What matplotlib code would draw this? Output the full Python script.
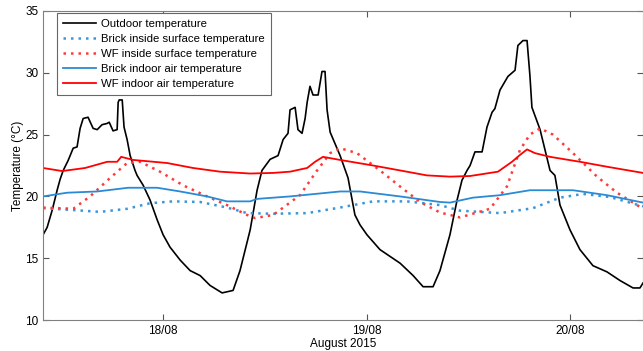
import matplotlib
matplotlib.use("Agg")
import matplotlib.pyplot as plt

# time in days since 17/08/2015 00:00
out_t = [0.410, 0.430, 0.455, 0.479, 0.494, 0.509, 0.533, 0.558, 0.577, 0.592,
         0.607, 0.631, 0.656, 0.676, 0.700, 0.725, 0.735, 0.754, 0.774, 0.779,
         0.784, 0.799, 0.808, 0.823, 0.838, 0.862, 0.872, 0.902, 0.936, 0.971,
         1.000, 1.034, 1.084, 1.133, 1.182, 1.231, 1.290, 1.344, 1.378, 1.428,
         1.462, 1.486, 1.526, 1.565, 1.590, 1.614, 1.624, 1.649, 1.663, 1.683,
         1.698, 1.708, 1.722, 1.737, 1.762, 1.781, 1.796, 1.806, 1.821, 1.870,
         1.909, 1.943, 1.968, 2.002, 2.066, 2.165, 2.229, 2.278, 2.327, 2.361,
         2.410, 2.445, 2.469, 2.494, 2.509, 2.533, 2.568, 2.592, 2.617, 2.631,
         2.656, 2.695, 2.730, 2.744, 2.769, 2.789, 2.803, 2.813, 2.853, 2.902,
         2.926, 2.951, 3.000, 3.049, 3.113, 3.182, 3.246, 3.310, 3.344, 3.359]
out_temp = [16.9, 17.5, 18.9, 20.5, 21.4, 22.1, 22.9, 23.9, 24.0, 25.5,
            26.3, 26.4, 25.5, 25.4, 25.8, 25.9, 26.0, 25.3, 25.4, 27.6,
            27.8, 27.8, 25.6, 24.6, 23.3, 22.1, 21.7, 20.9, 19.7, 18.1,
            16.9, 15.9, 14.85, 14.0, 13.6, 12.8, 12.2, 12.4, 14.0, 17.3,
            20.5, 22.1, 23.0, 23.3, 24.6, 25.1, 27.0, 27.2, 25.4, 25.1,
            26.3, 27.6, 28.9, 28.2, 28.2, 30.1, 30.1, 27.0, 25.2, 23.3,
            21.5, 18.5, 17.7, 16.9, 15.7, 14.6, 13.6, 12.7, 12.7, 14.0,
            16.9, 19.7, 21.3, 22.1, 22.5, 23.6, 23.6, 25.6, 26.8, 27.1,
            28.6, 29.7, 30.2, 32.2, 32.6, 32.6, 29.8, 27.2, 25.4, 22.1,
            21.7, 19.3, 17.3, 15.7, 14.4, 13.9, 13.2, 12.6, 12.6, 13.0]

bs_t = [0.410, 0.558, 0.690, 0.823, 0.936, 1.049, 1.182, 1.314, 1.413, 1.541,
        1.708, 1.870, 2.032, 2.199, 2.361, 2.459, 2.656, 2.818, 2.951, 3.064,
        3.197, 3.359]
bs_temp = [19.05, 18.9, 18.75, 19.0, 19.45, 19.6, 19.55, 19.1, 18.65, 18.6,
           18.65, 19.1, 19.6, 19.6, 19.3, 18.85, 18.65, 19.05, 19.9, 20.2,
           19.95, 19.2]

wfs_t = [0.410, 0.558, 0.641, 0.740, 0.823, 0.887, 0.985, 1.098, 1.216, 1.314,
         1.413, 1.452, 1.541, 1.673, 1.757, 1.821, 1.870, 1.953, 2.066, 2.165,
         2.263, 2.361, 2.459, 2.607, 2.690, 2.754, 2.803, 2.853, 2.916, 3.015,
         3.133, 3.231, 3.359]
wfs_temp = [19.1, 19.0, 20.0, 21.5, 22.7, 22.8, 22.0, 20.9, 20.0, 19.3,
            18.5, 18.25, 18.5, 20.1, 22.1, 23.5, 23.9, 23.5, 22.1, 20.8,
            19.55, 18.7, 18.3, 19.0, 20.8, 23.75, 25.0, 25.5, 25.0, 23.5,
            21.6, 20.3, 19.0]

ba_t = [0.410, 0.528, 0.676, 0.828, 0.971, 1.084, 1.216, 1.314, 1.428, 1.462,
        1.624, 1.870, 1.968, 2.165, 2.361, 2.410, 2.523, 2.656, 2.803, 3.015,
        3.182, 3.359]
ba_temp = [20.0, 20.3, 20.4, 20.7, 20.7, 20.4, 20.0, 19.6, 19.6, 19.8,
           20.0, 20.4, 20.4, 20.0, 19.55, 19.5, 19.9, 20.1, 20.5, 20.5,
           20.1, 19.5]

wfa_t = [0.410, 0.504, 0.617, 0.725, 0.774, 0.794, 0.853, 1.020, 1.147, 1.280,
         1.428, 1.541, 1.624, 1.708, 1.747, 1.786, 1.870, 2.032, 2.165, 2.297,
         2.410, 2.509, 2.646, 2.715, 2.754, 2.789, 2.828, 2.902, 3.049, 3.182,
         3.359]
wfa_temp = [22.3, 22.05, 22.3, 22.8, 22.8, 23.2, 22.95, 22.7, 22.3, 22.0,
            21.85, 21.9, 22.0, 22.3, 22.8, 23.2, 22.95, 22.5, 22.1, 21.7,
            21.6, 21.65, 22.0, 22.8, 23.35, 23.8, 23.5, 23.2, 22.8, 22.4,
            21.9]

day_ticks = [1, 2, 3]
day_labels = ["18/08", "19/08", "20/08"]

plt.rcParams["font.family"] = ["Liberation Sans", "DejaVu Sans"]

fig = plt.figure(figsize=(6.43, 3.51), dpi=100)
ax = fig.add_axes([0.067, 0.088, 0.933, 0.881])

dot = (0, (1, 2))
ax.plot(out_t, out_temp, color="black", lw=1.2, label="Outdoor temperature")
ax.plot(bs_t, bs_temp, color="#3a96d8", lw=1.8, ls=dot, dash_capstyle="butt",
        label="Brick inside surface temperature")
ax.plot(wfs_t, wfs_temp, color="#ff3a3a", lw=1.8, ls=dot, dash_capstyle="butt",
        label="WF inside surface temperature")
ax.plot(ba_t, ba_temp, color="#2a8ad4", lw=1.3, label="Brick indoor air temperature")
ax.plot(wfa_t, wfa_temp, color="#ff0000", lw=1.3, label="WF indoor air temperature")

ax.set_xlim(0.410, 3.359)
ax.set_ylim(10, 35)
ax.set_xticks(day_ticks)
ax.set_xticklabels(day_labels)
ax.set_yticks([10, 15, 20, 25, 30, 35])
ax.tick_params(direction="in", top=True, right=True, length=4, width=0.8,
               colors="#555555", labelcolor="black", labelsize=8.5)
for s in ax.spines.values():
    s.set_color("#808080")
    s.set_linewidth(0.8)
ax.set_xlabel("August 2015", fontsize=8.5, labelpad=1)
ax.set_ylabel("Temperature (°C)", fontsize=8.5, labelpad=1)

leg = ax.legend(loc="upper left", bbox_to_anchor=(0.023, 0.994), fontsize=8.2,
                fancybox=False, framealpha=1, edgecolor="#666666",
                handlelength=2.9, handletextpad=0.4, labelspacing=0.44,
                borderpad=0.55, borderaxespad=0)
leg.get_frame().set_linewidth(0.8)

fig.savefig("out.png", dpi=100)
